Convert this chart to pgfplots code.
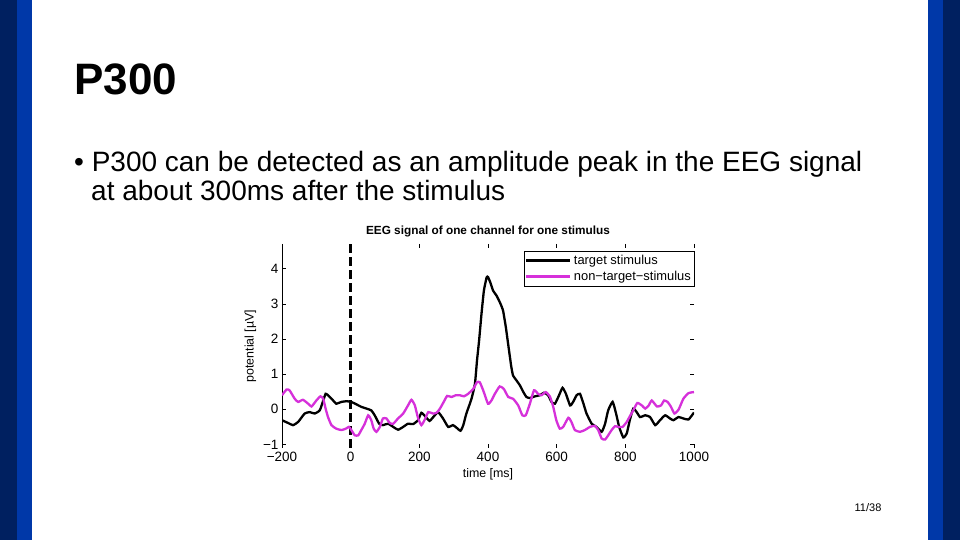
\documentclass[border=0pt]{standalone}
\usepackage{pgfplots}
\pgfplotsset{compat=1.18}
\usepackage{fontspec}
\setmainfont{Liberation Sans}
\definecolor{navy}{RGB}{0,32,96}
\definecolor{slideblue}{RGB}{0,56,168}
\definecolor{eegmag}{RGB}{214,48,218}
\begin{document}
\begin{tikzpicture}[x=1pt,y=1pt]
\useasboundingbox (0,0) rectangle (960,540);
\fill[white] (0,0) rectangle (960,540);
\fill[navy] (0,0) rectangle (17,540);
\fill[slideblue] (17,0) rectangle (32,540);
\fill[slideblue] (928,0) rectangle (943,540);
\fill[navy] (943,0) rectangle (960,540);
\node[anchor=base west, inner sep=0pt, font=\bfseries\fontsize{44}{50}\selectfont] at (74,445) {P300};
\node[anchor=base west, inner sep=0pt, font=\fontsize{28}{32}\selectfont] at (74,368) {• P300 can be detected as an amplitude peak in the EEG signal};
\node[anchor=base west, inner sep=0pt, font=\fontsize{28}{32}\selectfont] at (91,339) {at about 300ms after the stimulus};
\node[anchor=base, inner sep=0pt, font=\fontsize{11}{13}\selectfont] at (868,28) {11/38};
\begin{axis}[
  at={(282pt,92pt)}, anchor=south west,
  scale only axis, width=412pt, height=204pt,
  xmin=-200, xmax=1000, ymin=-1.1, ymax=4.7,
  xtick={-200,0,200,400,600,800,1000},
  xticklabels={−200,0,200,400,600,800,1000},
  ytick={-1,0,1,2,3,4},
  yticklabels={−1,0,1,2,3,4},
  tick align=inside, major tick length=4pt,
  every tick/.style={black, thin},
  separate axis lines,
  axis line style={draw=none},
  tick label style={font=\fontsize{13.5}{15}\selectfont},
  xticklabel style={yshift=-1pt},
  title={EEG signal of one channel for one stimulus},
  title style={font=\bfseries\fontsize{11.8}{13}\selectfont, yshift=-3pt},
  xlabel={time [ms]},
  xlabel style={font=\fontsize{12.4}{14}\selectfont},
  ylabel={potential [µV]},
  ylabel style={font=\fontsize{12.4}{14}\selectfont},
  legend style={at={(1,0.966)}, anchor=north east, draw=black, thin, fill=white,
    font=\fontsize{12.9}{14}\selectfont, inner xsep=1pt, inner ysep=2pt, row sep=1pt,
    legend cell align=left},
  legend image code/.code={\draw[#1, line width=3pt] (0pt,0pt) -- (44pt,0pt);},
]
\draw[black, thin] (rel axis cs:0,0) -- (rel axis cs:1,0);
\draw[black, thin] (rel axis cs:0,0) -- (rel axis cs:0,1);
\addplot[black, line width=3.5pt, dash pattern=on 9pt off 4pt, forget plot] coordinates {(0,-1.1) (0,4.7)};
\addplot[black, line width=2.3pt, smooth, tension=0.3] coordinates {
(-200,-0.31) (-182,-0.39) (-168,-0.45) (-153,-0.36) (-134,-0.12) (-119,-0.08) (-105,-0.12) (-90,-0.03)
(-80,0.25) (-73,0.44) (-66,0.40) (-51,0.25) (-42,0.16) (-27,0.21) (-12,0.23) (2,0.21) (17,0.14)
(31,0.07) (46,0.02) (60,-0.03) (70,-0.17) (83,-0.41) (94,-0.45) (109,-0.41) (124,-0.5) (138,-0.58)
(153,-0.5) (167,-0.41) (182,-0.42) (196,-0.31) (206,-0.1) (219,-0.22) (230,-0.33) (245,-0.17)
(255,-0.08) (269,-0.26) (284,-0.5) (298,-0.45) (308,-0.52) (320,-0.61) (328,-0.45) (337,-0.12)
(352,0.30) (362,0.73) (368,1.39) (374,1.95) (381,2.71) (388,3.37) (396,3.75) (400,3.76) (407,3.60)
(415,3.37) (425,3.23) (436,3.01) (444,2.80) (452,2.33) (460,1.76) (468,1.20) (473,0.96) (483,0.82)
(493,0.68) (503,0.49) (512,0.35) (522,0.32) (537,0.37) (551,0.40) (563,0.47) (575,0.40) (585,0.21)
(595,0.16) (607,0.40) (617,0.61) (627,0.44) (639,0.11) (648,0.21) (658,0.40) (668,0.44) (678,0.16)
(687,-0.12) (702,-0.41) (716,-0.5) (731,-0.64) (741,-0.41) (750,-0.03) (763,0.21) (773,-0.12)
(782,-0.5) (794,-0.80) (804,-0.69) (813,-0.31) (823,0.02) (833,-0.08) (843,-0.22) (858,-0.17)
(872,-0.22) (887,-0.45) (901,-0.31) (916,-0.17) (930,-0.26) (940,-0.31) (955,-0.22) (969,-0.26)
(984,-0.29) (1000,-0.09)
};
\addlegendentry{target stimulus}
\addplot[eegmag, line width=2.3pt, smooth, tension=0.3] coordinates {
(-200,0.40) (-187,0.56) (-178,0.54) (-163,0.30) (-153,0.21) (-139,0.27) (-124,0.16) (-114,0.08)
(-100,0.25) (-88,0.37) (-80,0.30) (-73,0.02) (-66,-0.22) (-56,-0.45) (-42,-0.55) (-27,-0.59)
(-14,-0.55) (-5,-0.5) (2,-0.59) (12,-0.74) (22,-0.74) (31,-0.59) (41,-0.41) (51,-0.17) (60,-0.31)
(67,-0.55) (75,-0.64) (85,-0.5) (94,-0.26) (104,-0.26) (114,-0.39) (124,-0.41) (138,-0.26)
(153,-0.12) (167,0.11) (177,0.27) (187,0.11) (196,-0.24) (206,-0.45) (216,-0.29) (226,-0.08)
(240,-0.12) (250,-0.10) (260,0.02) (271,0.21) (281,0.38) (294,0.35) (306,0.40) (318,0.40)
(330,0.37) (342,0.44) (357,0.58) (368,0.77) (376,0.77) (386,0.54) (400,0.16) (410,0.25) (420,0.44)
(434,0.65) (446,0.58) (459,0.35) (473,0.30) (488,0.11) (500,-0.17) (510,-0.17) (522,0.16)
(534,0.54) (546,0.44) (556,0.40) (568,0.49) (580,0.37) (590,0.07) (599,-0.31) (609,-0.55)
(619,-0.5) (634,-0.24) (643,-0.36) (653,-0.59) (668,-0.64) (682,-0.59) (697,-0.5) (711,-0.47)
(721,-0.59) (731,-0.83) (741,-0.86) (750,-0.74) (760,-0.59) (770,-0.48) (780,-0.5) (792,-0.5)
(804,-0.36) (813,-0.2) (823,-0.03) (835,0.18) (848,0.11) (858,0.02) (868,0.11) (877,0.25)
(892,0.08) (904,0.11) (913,0.25) (923,0.21) (933,0.07) (943,-0.12) (955,-0.01) (969,0.30)
(984,0.46) (1000,0.49)
};
\addlegendentry{non−target−stimulus}
\end{axis}
\end{tikzpicture}
\end{document}
